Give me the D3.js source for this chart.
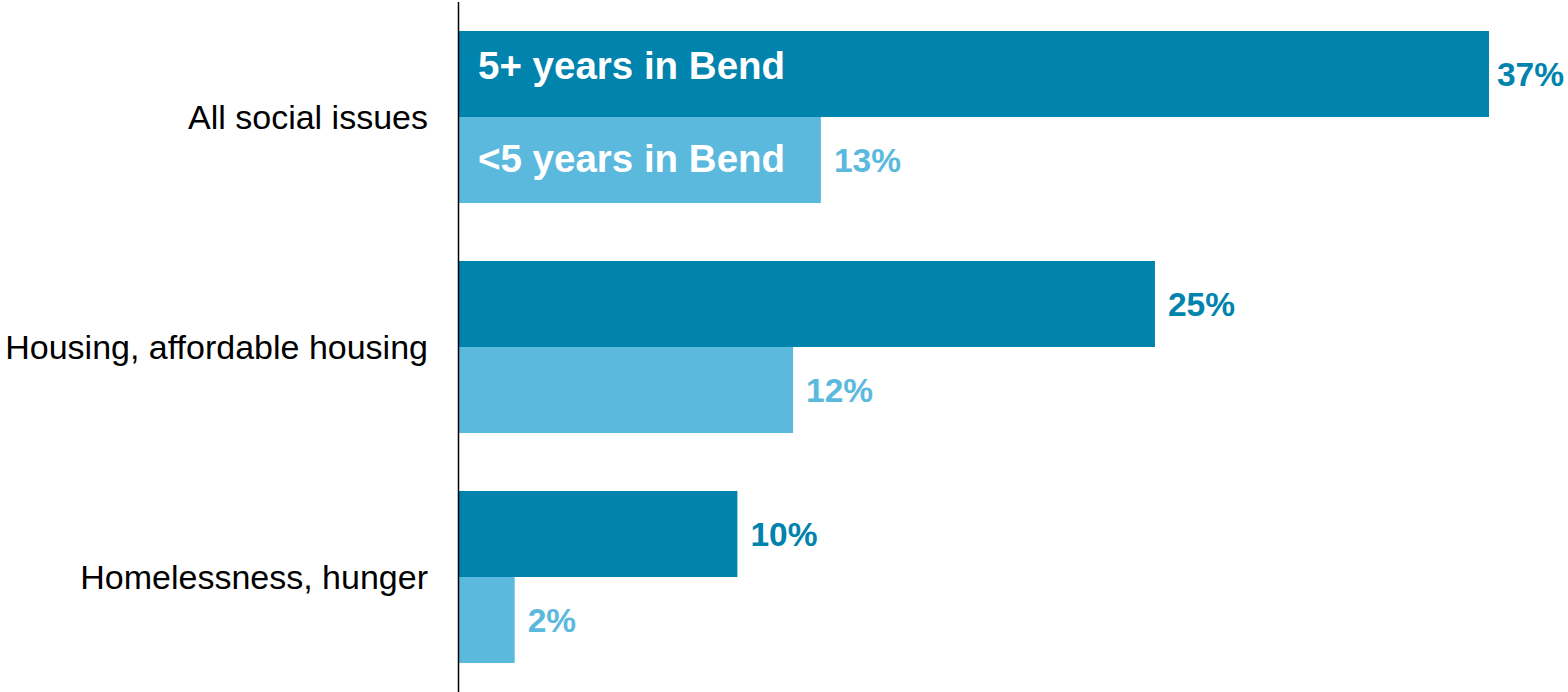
<!DOCTYPE html>
<html>
<head>
<meta charset="utf-8">
<script src="https://cdn.jsdelivr.net/npm/d3@7"></script>
<style>
  body { margin: 0; background: #fff; }
  text { font-family: "Liberation Sans", Arial, sans-serif; }
</style>
</head>
<body>
<div id="chart"></div>
<script>
// categories and the two series (percent of respondents)
var categories = ["All social issues", "Housing, affordable housing", "Homelessness, hunger"];
var seriesNames = ["5+ years in Bend", "<5 years in Bend"];
var longTime = [37, 25, 10];
var newcomers = [13, 12, 2];
var colors = ["#0083ac", "#5bb9de"];

var width = 1568,
    height = 692,
    axisX = 459;

var svg = d3.select("#chart")
  .append("svg")
  .attr("width", width)
  .attr("height", height);

var yScale = d3.scaleBand()
  .domain(categories)
  .range([2, 692])
  .paddingInner(0.252)
  .paddingOuter(0.126);

var inner = d3.scaleBand()
  .domain(seriesNames)
  .range([0, yScale.bandwidth()]);

var xScale = d3.scaleLinear()
  .domain([0, 37])
  .range([axisX, 1489]);

var rows = [];
categories.forEach(function (c, i) {
  rows.push({cat: c, series: seriesNames[0], value: longTime[i], color: colors[0]});
  rows.push({cat: c, series: seriesNames[1], value: newcomers[i], color: colors[1]});
});

svg.selectAll("rect.bar").data(rows)
  .enter().append("rect")
  .attr("class", "bar")
  .attr("fill", function (d) { return d.color; })
  .attr("x", xScale(0))
  .attr("y", function (d) { return yScale(d.cat) + inner(d.series); })
  .attr("width", function (d) { return xScale(d.value) - xScale(0); })
  .attr("height", inner.bandwidth());

// value labels, kept inside the right edge
svg.selectAll("text.val").data(rows)
  .enter().append("text")
  .attr("class", "val")
  .attr("y", function (d) { return yScale(d.cat) + inner(d.series) + inner.bandwidth() / 2 + 12; })
  .attr("fill", function (d) { return d.color; })
  .style("font-size", "33.5px")
  .style("font-weight", "bold")
  .text(function (d) { return d.value + "%"; })
  .attr("x", function (d) {
    var w = this.getComputedTextLength();
    return Math.min(xScale(d.value) + 13, width - 4 - w);
  });

// series names inside the first group's bars
var legendShift = [5, 12];
svg.selectAll("text.legend").data(seriesNames)
  .enter().append("text")
  .attr("class", "legend")
  .attr("x", axisX + 19)
  .attr("y", function (d, i) { return yScale(categories[0]) + inner(d) + inner.bandwidth() / 2 + legendShift[i]; })
  .attr("fill", "#fff")
  .style("font-size", "38.5px")
  .style("font-weight", "bold")
  .text(function (d) { return d; });

// category axis
var yAxis = d3.axisLeft(yScale).tickSize(0).tickPadding(30);
var g = svg.append("g")
  .attr("transform", "translate(" + (axisX - 1) + ",0)")
  .call(yAxis);
g.select(".domain").attr("d", "M0.5,2V692").attr("stroke", "#000").attr("stroke-width", 1.5);
g.selectAll(".tick text")
  .attr("fill", "#000")
  .style("font-size", "34px")
  .style("font-family", "'Liberation Sans', Arial, sans-serif")
  .attr("dy", 12);
</script>
</body>
</html>
